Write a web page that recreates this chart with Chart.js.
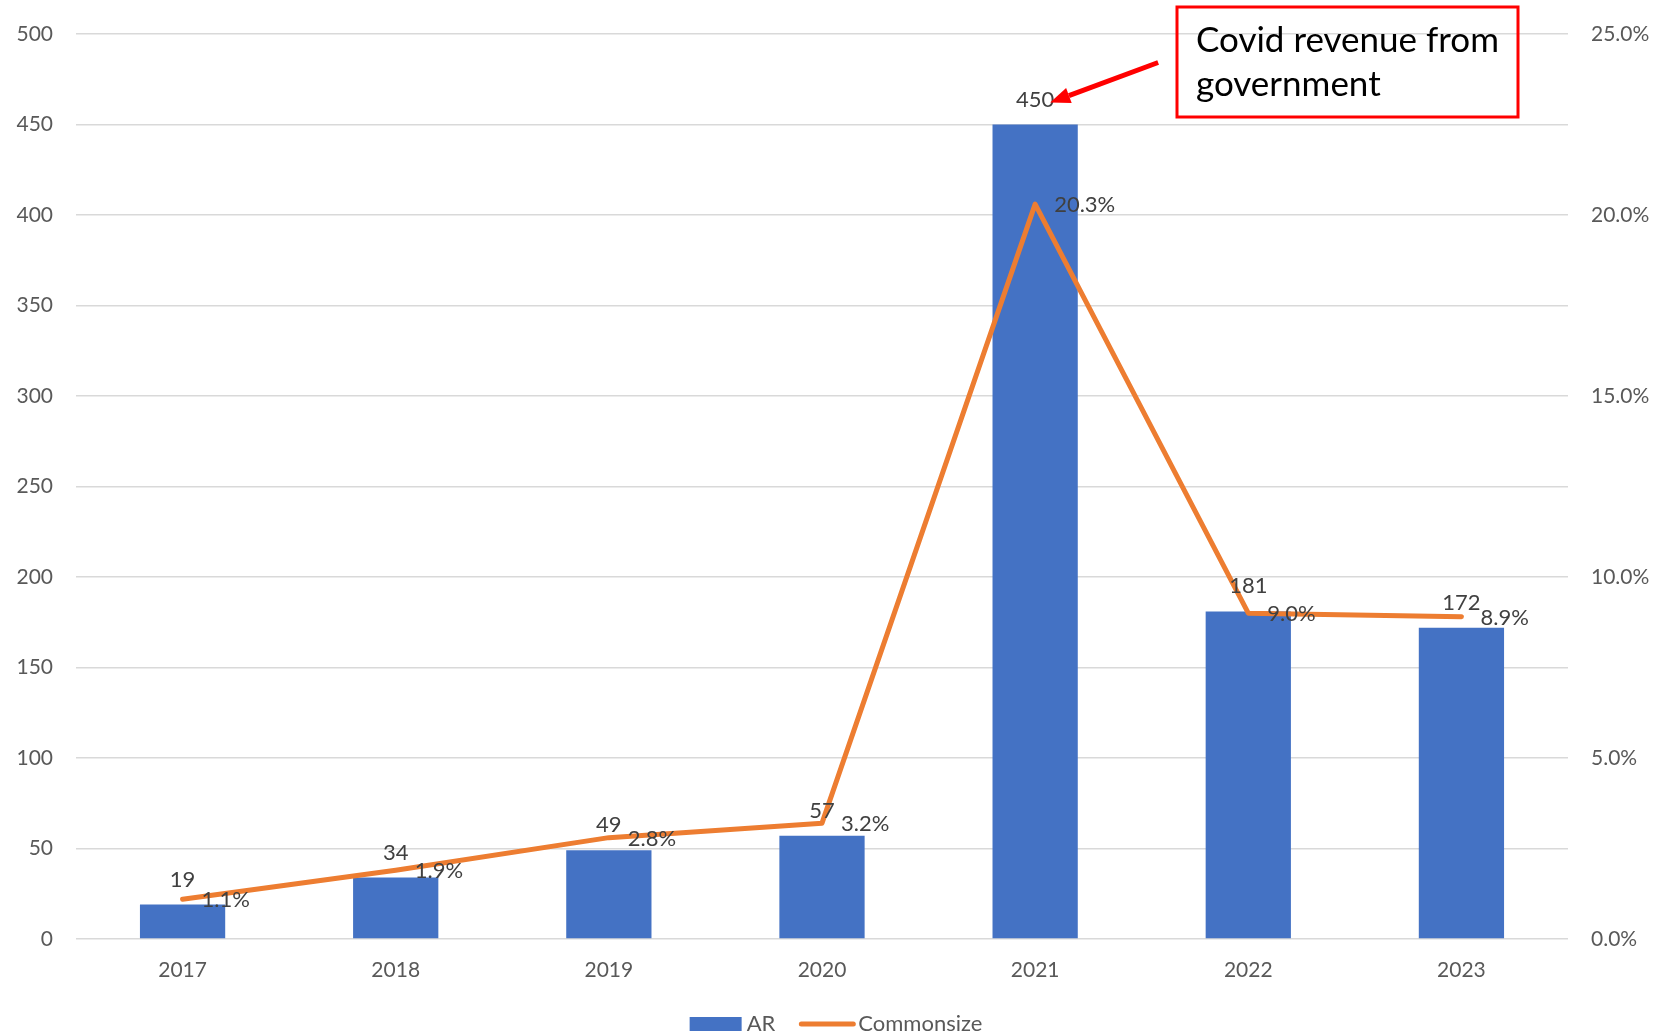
<!DOCTYPE html>
<html>
<head>
<meta charset="utf-8">
<script src="https://cdn.jsdelivr.net/npm/chart.js@4.4.1/dist/chart.umd.min.js"></script>
<style>
    html, body { margin: 0; padding: 0; background: #fff; }
    #wrap { width: 1657px; height: 1036px; }
</style>
</head>
<body>
<div id="wrap"><canvas id="arChart" width="1657" height="1036"></canvas></div>
<script>
const years = ['2017', '2018', '2019', '2020', '2021', '2022', '2023'];
const arValues = [19, 34, 49, 57, 450, 181, 172];
const commonsizePct = [1.1, 1.9, 2.8, 3.2, 20.3, 9.0, 8.9];
const noteLines = ['Covid revenue from', 'government'];

const BLUE = '#4472C4';
const ORANGE = '#ED7D31';
const GRID = '#D9D9D9';
const TICK_COLOR = '#595959';
const LABEL_COLOR = '#404040';
const FONT = 'Lato, "Open Sans", sans-serif';

// value labels: bars get the number above, line points get % to the right
const dataLabelPlugin = {
    id: 'dataLabels',
    afterDatasetsDraw: (chart) => {
        const { ctx } = chart;
        ctx.save();
        ctx.font = '22px ' + FONT;
        ctx.fillStyle = LABEL_COLOR;

        const barMeta = chart.getDatasetMeta(0);
        ctx.textAlign = 'center';
        ctx.textBaseline = 'middle';
        barMeta.data.forEach((bar, i) => {
            ctx.fillText(String(arValues[i]), bar.x, bar.y - 25);
        });

        const lineMeta = chart.getDatasetMeta(1);
        ctx.textAlign = 'left';
        lineMeta.data.forEach((pt, i) => {
            ctx.fillText(commonsizePct[i].toFixed(1) + '%', pt.x + 19, pt.y + 1);
        });
        ctx.restore();
    }
};

// callout box with arrow pointing at the 2021 bar label
const calloutPlugin = {
    id: 'callout',
    afterDraw: (chart) => {
        const { ctx } = chart;
        const bar = chart.getDatasetMeta(0).data[4];
        const labelY = bar.y - 25;
        ctx.save();

        // arrow
        const tipX = bar.x + 15, tipY = labelY + 3;
        const tailX = bar.x + 123, tailY = labelY - 37;
        const ang = Math.atan2(tipY - tailY, tipX - tailX);
        const headLen = 20, headW = 8;
        const baseX = tipX - headLen * Math.cos(ang);
        const baseY = tipY - headLen * Math.sin(ang);
        ctx.strokeStyle = '#FF0000';
        ctx.fillStyle = '#FF0000';
        ctx.lineWidth = 5;
        ctx.beginPath();
        ctx.moveTo(tailX, tailY);
        ctx.lineTo(baseX, baseY);
        ctx.stroke();
        ctx.beginPath();
        ctx.moveTo(tipX, tipY);
        ctx.lineTo(baseX + headW * Math.sin(ang), baseY - headW * Math.cos(ang));
        ctx.lineTo(baseX - headW * Math.sin(ang), baseY + headW * Math.cos(ang));
        ctx.closePath();
        ctx.fill();

        // box
        ctx.lineWidth = 3;
        ctx.strokeRect(1177, 7, 341, 110);
        ctx.fillStyle = '#000';
        ctx.font = '35px ' + FONT;
        ctx.textAlign = 'left';
        ctx.textBaseline = 'middle';
        ctx.fillText(noteLines[0], 1196, 41);
        ctx.fillText(noteLines[1], 1196, 85);
        ctx.restore();
    }
};

// legend drawn under the axis labels
const legendPlugin = {
    id: 'bottomLegend',
    afterDraw: (chart) => {
        const { ctx } = chart;
        const ds = chart.data.datasets;
        ctx.save();
        ctx.font = '22px ' + FONT;
        ctx.textBaseline = 'middle';
        ctx.textAlign = 'left';
        const y = 1024;
        const w1 = ctx.measureText(ds[0].label).width;
        const w2 = ctx.measureText(ds[1].label).width;
        const total = 52 + 5 + w1 + 24 + 56 + 3 + w2;
        let x = 836 - total / 2;

        ctx.fillStyle = ds[0].backgroundColor;
        ctx.fillRect(x, y - 7, 52, 14);
        x += 57;
        ctx.fillStyle = TICK_COLOR;
        ctx.fillText(ds[0].label, x, y);
        x += w1 + 24;

        ctx.strokeStyle = ds[1].borderColor;
        ctx.lineWidth = 5;
        ctx.lineCap = 'round';
        ctx.beginPath();
        ctx.moveTo(x + 2, y);
        ctx.lineTo(x + 54, y);
        ctx.stroke();
        x += 59;
        ctx.fillText(ds[1].label, x, y);
        ctx.restore();
    }
};

const ctx = document.getElementById('arChart').getContext('2d');
new Chart(ctx, {
    type: 'bar',
    data: {
        labels: years,
        datasets: [
            {
                type: 'bar',
                label: 'AR',
                data: arValues,
                backgroundColor: BLUE,
                borderWidth: 0,
                barPercentage: 0.8,
                categoryPercentage: 0.5,
                yAxisID: 'y',
                order: 2
            },
            {
                type: 'line',
                label: 'Commonsize',
                data: commonsizePct,
                borderColor: ORANGE,
                backgroundColor: ORANGE,
                borderWidth: 5,
                borderCapStyle: 'round',
                borderJoinStyle: 'round',
                tension: 0,
                pointRadius: 0,
                pointHoverRadius: 0,
                yAxisID: 'y1',
                order: 1
            }
        ]
    },
    options: {
        responsive: false,
        animation: false,
        layout: { padding: { top: 34, bottom: 0, left: 0, right: 0 } },
        plugins: {
            legend: { display: false },
            tooltip: { enabled: false }
        },
        scales: {
            x: {
                grid: { display: false, drawTicks: false },
                border: { display: false },
                ticks: { color: TICK_COLOR, font: { family: FONT, size: 21 }, padding: 19 },
                afterFit: (s) => { s.height = 97; s.paddingLeft = 0; s.paddingRight = 0; }
            },
            y: {
                position: 'left',
                min: 0,
                max: 500,
                ticks: { stepSize: 50, color: TICK_COLOR, font: { family: FONT, size: 21 }, padding: 23 },
                grid: { color: GRID, lineWidth: 1.5, drawTicks: false },
                border: { display: false },
                afterFit: (s) => { s.width = 76; s.paddingTop = 0; s.paddingBottom = 0; }
            },
            y1: {
                position: 'right',
                min: 0,
                max: 25,
                ticks: {
                    stepSize: 5,
                    color: TICK_COLOR,
                    font: { family: FONT, size: 21 },
                    padding: 23,
                    callback: (v) => v.toFixed(1) + '%'
                },
                grid: { display: false, drawTicks: false },
                border: { display: false },
                afterFit: (s) => { s.width = 89; s.paddingTop = 0; s.paddingBottom = 0; }
            }
        }
    },
    plugins: [dataLabelPlugin, calloutPlugin, legendPlugin]
});
</script>
</body>
</html>
